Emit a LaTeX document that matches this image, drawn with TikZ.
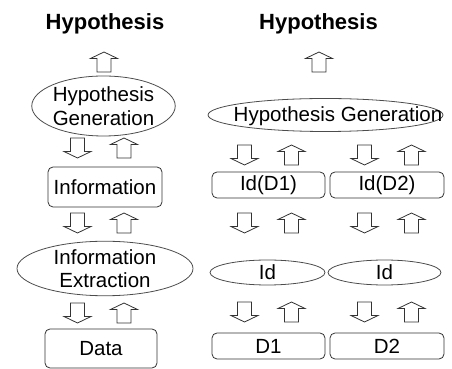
\documentclass[tikz,border=0pt]{standalone}
\usepackage{fontspec}
\setmainfont{Liberation Sans}
\usetikzlibrary{shapes.geometric}
\tikzset{
  x=1pt, y=1pt,
  every node/.style={inner sep=0pt, outer sep=0pt},
  body/.style={font=\fontsize{20.5}{23.5}\selectfont, align=center},
  title/.style={font=\fontsize{22}{26}\selectfont\bfseries, anchor=base},
  oval/.style={ellipse, draw=black!70, line width=0.8pt, body},
  box/.style={rectangle, rounded corners=5pt, draw=black!80, line width=0.8pt, body},
  arrline/.style={draw=black!80, line width=0.8pt, fill=white},
  uparr/.pic={\draw[arrline] (-7,-10) -- (-7,3.5) -- (-13.5,3.5) -- (0,10)
      -- (13.5,3.5) -- (7,3.5) -- (7,-10) -- cycle;},
  downarr/.pic={\draw[arrline] (-7,10) -- (-7,-3.5) -- (-13.5,-3.5) -- (0,-10)
      -- (13.5,-3.5) -- (7,-3.5) -- (7,10) -- cycle;}
}
\begin{document}
\begin{tikzpicture}
\useasboundingbox (0,0) rectangle (452,369);

% ---- left column: single source ----
\node[title] (titleL) at (105,339) {Hypothesis};
\pic at (104,307) {uparr};
\node[oval, minimum width=133pt, minimum height=60pt] (hgL) at (103.5,263)
  {Hypothesis\\Generation};
\pic at (77.5,221) {downarr};
\pic at (124,221) {uparr};
\node[box, minimum width=114pt, minimum height=40pt] (info) at (105,182) {Information};
\pic at (77.5,146) {downarr};
\pic at (124,146) {uparr};
\node[oval, minimum width=176pt, minimum height=53pt] (ie) at (105,100.5)
  {Information\\Extraction};
\pic at (77.5,56) {downarr};
\pic at (124,56) {uparr};
\node[box, minimum width=112pt, minimum height=39pt] (data) at (101,20.5) {Data};

% ---- right column: two sources ----
\node[title] (titleR) at (318.5,339) {Hypothesis};
\pic at (319,307) {uparr};
\node[ellipse, draw=black!70, line width=0.8pt, minimum width=235pt,
  minimum height=33pt] (hgR) at (325.5,254) {};
\node[body, anchor=base] (hgRtext) at (338,247) {Hypothesis Generation};
\foreach \y in {214,146,57} {
  \pic at (244.5,\y) {downarr};
  \pic at (291.5,\y) {uparr};
  \pic at (364.5,\y) {downarr};
  \pic at (411.5,\y) {uparr};
}
\node[box, minimum width=113pt, minimum height=26pt] (idd1) at (268.5,184) {Id(D1)};
\node[box, minimum width=114pt, minimum height=26pt] (idd2) at (387,184) {Id(D2)};
\node[oval, minimum width=115pt, minimum height=25pt] (id1) at (267.5,96.5) {Id};
\node[oval, minimum width=113pt, minimum height=25pt] (id2) at (384.5,96.5) {Id};
\node[box, minimum width=113pt, minimum height=26pt] (d1) at (268.5,23) {D1};
\node[box, minimum width=114pt, minimum height=26pt] (d2) at (387,23) {D2};
\end{tikzpicture}
\end{document}
